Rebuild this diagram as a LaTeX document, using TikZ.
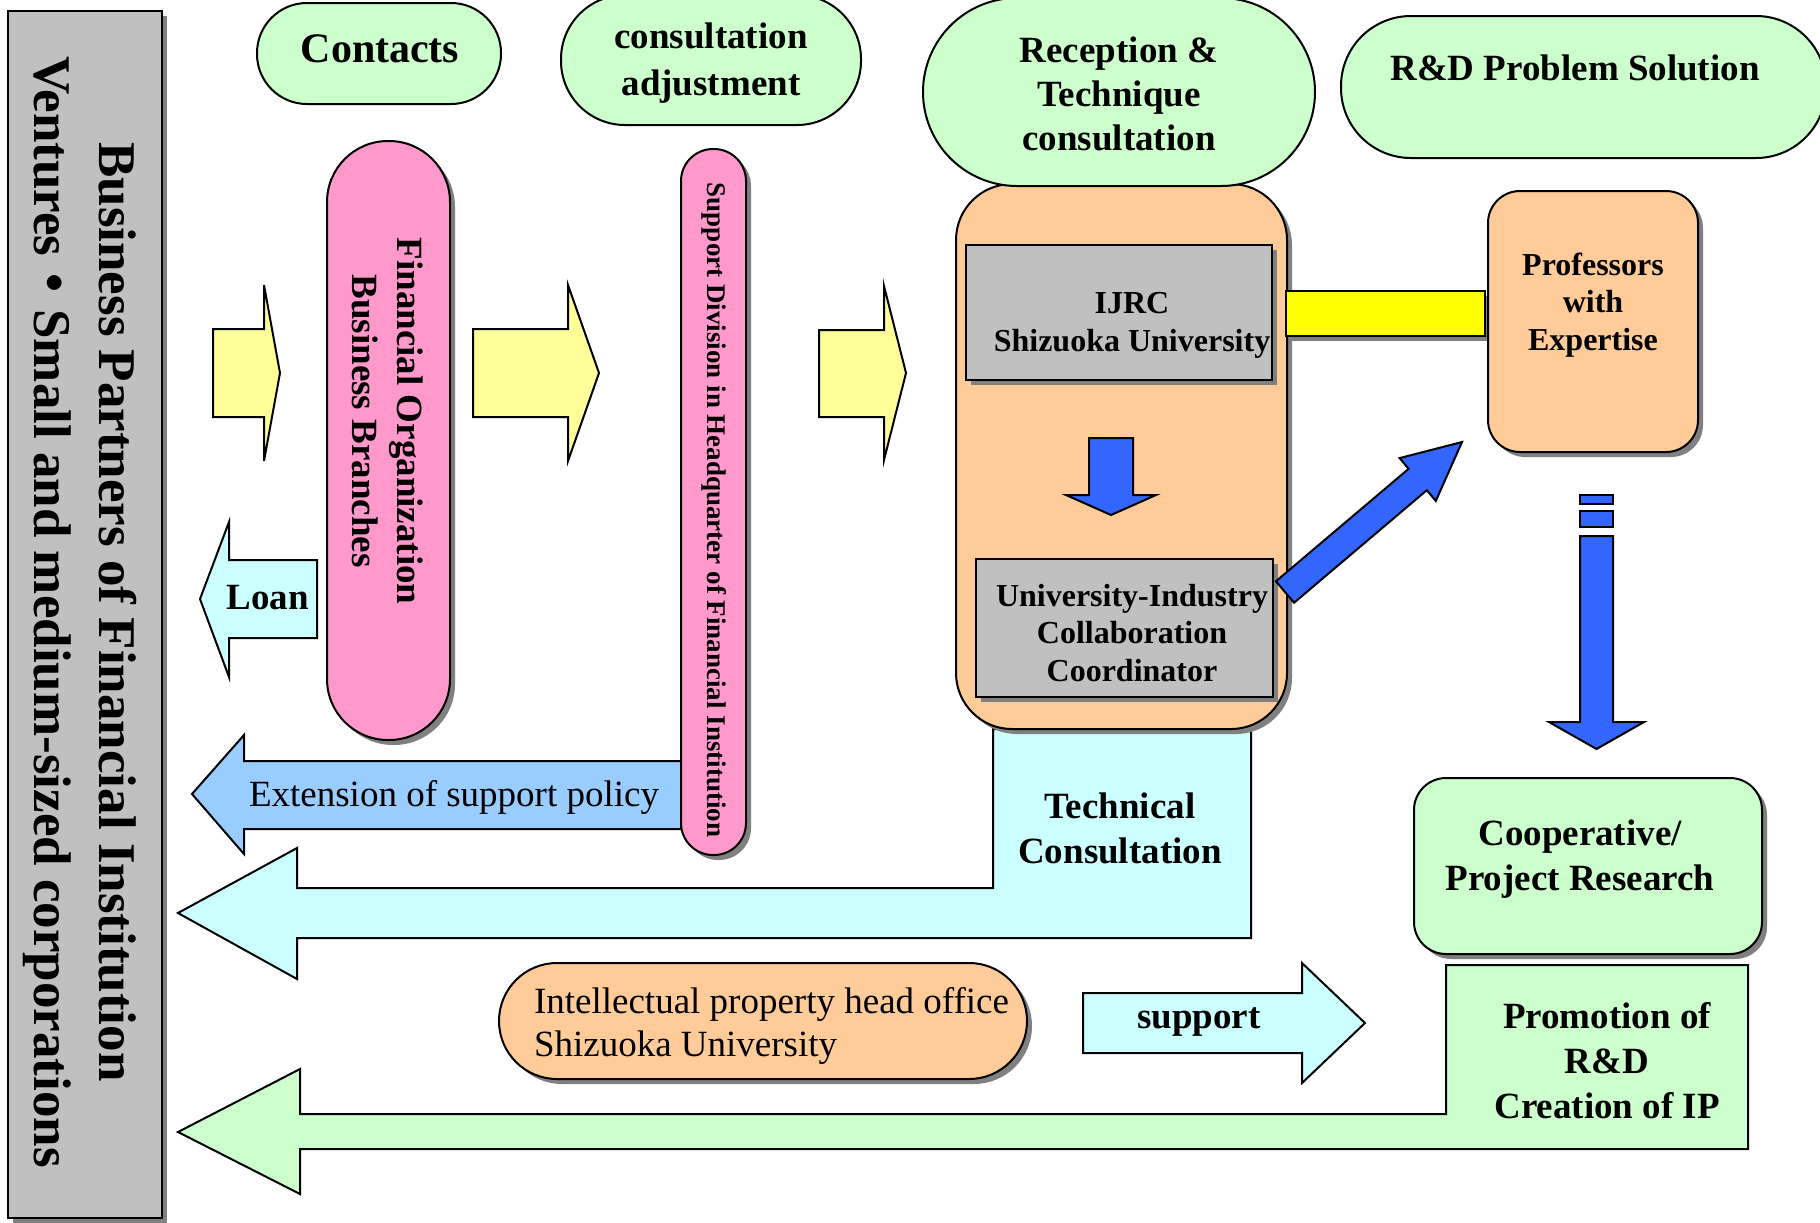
\documentclass[tikz,border=0pt]{standalone}
\usepackage{fontspec}
\setmainfont{Liberation Serif}
\newfontfamily\cjkfont{Noto Sans CJK JP}
\usetikzlibrary{shadows,fit}
\definecolor{pgreen}{HTML}{CCFFCC}
\definecolor{ppink}{HTML}{FF99CC}
\definecolor{porange}{HTML}{FFCC99}
\definecolor{pgrey}{HTML}{C0C0C0}
\definecolor{pyellow}{HTML}{FFFF99}
\definecolor{pyellowbar}{HTML}{FFFF00}
\definecolor{pblue}{HTML}{3366FF}
\definecolor{plightblue}{HTML}{99CCFF}
\definecolor{pcyan}{HTML}{CCFFFF}
\tikzset{
  shad/.style={drop shadow={shadow xshift=2.5pt,shadow yshift=-2.5pt,fill=black!50,opacity=1}},
  box/.style={draw, inner sep=0pt, outer sep=0pt},
  blk/.style={draw, line join=miter},
  lbl/.style={font=\bfseries\fontsize{18.5pt}{22.5pt}\selectfont, align=center, inner sep=0pt, anchor=base},
  lblr/.style={font=\fontsize{18.5pt}{21.5pt}\selectfont, align=left, inner sep=0pt, anchor=base west},
  lbls/.style={font=\bfseries\fontsize{16pt}{18.75pt}\selectfont, align=center, inner sep=0pt, anchor=base},
}
\begin{document}
\begin{tikzpicture}[x=0.5pt,y=-0.5pt,line width=1pt]
\useasboundingbox (0,0) rectangle (1820,1222);
\clip (0,0) rectangle (1820,1222);

% left grey box
\node[box, fill=pgrey, shad, fit={(8,11) (162,1218)}] (partners) {};
\node[font=\bfseries\fontsize{26.5pt}{32.5pt}\selectfont, align=center, inner sep=0pt, anchor=base, rotate=-90] (partnerstxt) at (34,612)
  {Business Partners of Financial Institution\\Ventures{\cjkfont ・}Small and medium-sized corporations};

% top green pills
\node[box, fill=pgreen, rounded corners=25pt, fit={(257,3) (501,104)}] (contacts) {};
\node[lbl, font=\bfseries\fontsize{21pt}{25pt}\selectfont] (contactstxt) at (380,62.5) {Contacts};
\node[box, fill=pgreen, rounded corners=32pt, fit={(561,-5) (861,125)}] (adjust) {};
\node[lbl, font=\bfseries\fontsize{18.5pt}{23.5pt}\selectfont] (adjusttxt) at (711,95) {consultation\\adjustment};
\node[box, fill=pgreen, rounded corners=35pt, fit={(1341,16) (1826,158)}] (rd) {};
\node[lbl] (rdtxt) at (1575,80) {R\&D Problem Solution};

% big block arrows (background)
\draw[blk, fill=pcyan] (178,913) -- (297,848) -- (297,888) -- (993,888) -- (993,729) -- (1251,729)
  -- (1251,938) -- (297,938) -- (297,979) -- cycle;
\node[lbl] (techtxt) at (1120,863) {Technical\\Consultation};
\draw[blk, fill=pgreen] (178,1132) -- (300,1069) -- (300,1114) -- (1446,1114) -- (1446,965) -- (1748,965)
  -- (1748,1149) -- (300,1149) -- (300,1194) -- cycle;
\node[lbl] (promtxt) at (1607,1118) {Promotion of\\R\&D\\Creation of IP};
\draw[blk, fill=plightblue] (681,761) -- (244,761) -- (244,735) -- (192,794) -- (244,854) -- (244,829) -- (681,829) -- cycle;
\node[lblr] (exttxt) at (248,806) {Extension of support policy};

% yellow arrows
\draw[blk, fill=pyellow] (213,329) -- (264,329) -- (264,285) -- (280,373) -- (264,461) -- (264,417) -- (213,417) -- cycle;
\draw[blk, fill=pyellow] (473,329) -- (568,329) -- (568,285) -- (599,373) -- (568,461) -- (568,417) -- (473,417) -- cycle;
\draw[blk, fill=pyellow] (819,330) -- (884,330) -- (884,286) -- (906,373) -- (884,460) -- (884,417) -- (819,417) -- cycle;

% loan arrow
\draw[blk, fill=pcyan] (317,560) -- (229,560) -- (229,522) -- (200,599) -- (229,677) -- (229,638) -- (317,638) -- cycle;
\node[lbl] (loantxt) at (267.5,609) {Loan};

% pink pills
\node[box, fill=ppink, shad, rounded corners=30.5pt, fit={(327,141) (450,740)}] (finorg) {};
\node[lbl, rotate=-90] (finorgtxt) at (352,421) {Financial Organization\\Business Branches};
\node[box, fill=ppink, shad, rounded corners=16pt, fit={(681,149) (746,855)}] (supdiv) {};
\node[lbl, rotate=-90, font=\bfseries\fontsize{13.5pt}{16pt}\selectfont] (supdivtxt) at (707,510)
  {Support Division in Headquarter of Financial Institution};

% orange centre box
\node[box, fill=porange, shad, rounded corners=28pt, fit={(956,184) (1287,729)}] (center) {};
\node[box, fill=pgreen, rounded corners=47pt, fit={(923,-2) (1315,186)}] (reception) {};
\node[lbl, font=\bfseries\fontsize{18.5pt}{22pt}\selectfont] (receptiontxt) at (1119,150) {Reception \&\\Technique\\consultation};
\node[box, fill=pgrey, shad, fit={(966,245) (1272,380)}] (ijrc) {};
\node[lbls] (ijrctxt) at (1132,351) {IJRC\\Shizuoka University};
\node[box, fill=pgrey, shad, fit={(976,559) (1273,697)}] (uic) {};
\node[lbls] (uictxt) at (1132,681) {University-Industry\\Collaboration\\Coordinator};
\draw[blk, fill=pblue] (1089,438) -- (1133,438) -- (1133,495) -- (1156,495) -- (1111,515) -- (1066,495) -- (1089,495) -- cycle;

% professors
\node[box, fill=pyellowbar, shad, fit={(1286,291) (1485,336)}] (bar) {};
\node[box, fill=porange, shad, rounded corners=16pt, fit={(1488,191) (1698,452)}] (prof) {};
\node[lbls] (proftxt) at (1593,350) {Professors\\with\\Expertise};
\draw[blk, fill=pblue] (1294.1,602.7) -- (1426.8,490.2) -- (1435.8,500.9) -- (1462,442) -- (1399.6,458.1)
  -- (1408.6,468.8) -- (1275.9,581.3) -- cycle;
\draw[blk, fill=pblue] (1580,495) rectangle (1613,504);
\draw[blk, fill=pblue] (1580,511) rectangle (1613,527);
\draw[blk, fill=pblue] (1580,536) -- (1613,536) -- (1613,722) -- (1644,722) -- (1596.5,749) -- (1549,722) -- (1580,722) -- cycle;

% cooperative
\node[box, fill=pgreen, shad, rounded corners=16pt, fit={(1414,778) (1762,954)}] (coop) {};
\node[lbl] (cooptxt) at (1580,890) {Cooperative/\\Project Research};

% intellectual property
\node[box, fill=porange, shad, rounded corners=29pt, fit={(499,963) (1027,1079)}] (ip) {};
\node[lblr] (iptxt) at (533,1056) {Intellectual property head office\\Shizuoka University};
\draw[blk, fill=pcyan] (1083,993) -- (1302,993) -- (1302,963) -- (1365,1023) -- (1302,1083) -- (1302,1053) -- (1083,1053) -- cycle;
\node[lbl] (supporttxt) at (1199,1028) {support};
\end{tikzpicture}
\end{document}
